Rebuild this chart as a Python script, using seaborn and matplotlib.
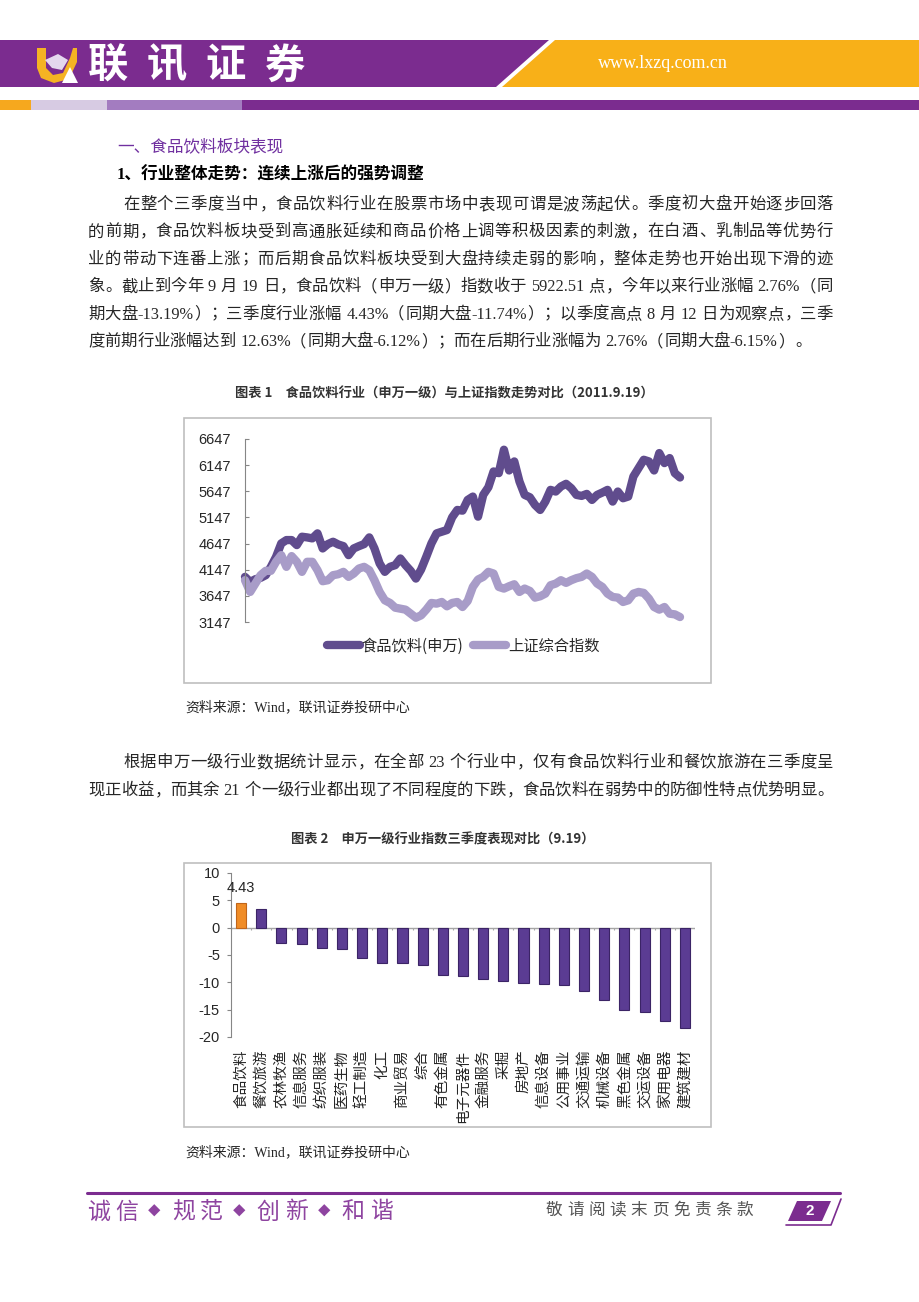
import re

import matplotlib

matplotlib.use("Agg")
import matplotlib.pyplot as plt
import numpy as np
import pandas as pd
import seaborn as sns
from matplotlib.lines import Line2D
from matplotlib.patches import Polygon, Rectangle

W, H = 920, 1302  # page size in pixels

# ---- chart 1: index trend ----
food_bev = [4010, 3914, 3965, 3991, 4042, 4202, 4394, 4650, 4714, 4714,
            4618, 4778, 4765, 4746, 4842, 4554, 4637, 4682, 4630, 4598,
            4426, 4554, 4598, 4637, 4765, 4554, 4266, 4106, 4202, 4234,
            4362, 4234, 4125, 3978, 4150, 4394, 4650, 4842, 4874, 4906,
            5149, 5290, 5277, 5482, 5546, 5162, 5578, 5725, 6026, 5994,
            6442, 6045, 6218, 5834, 5578, 5533, 5386, 5290, 5450, 5674,
            5642, 5738, 5790, 5706, 5578, 5559, 5597, 5482, 5578, 5623,
            5674, 5450, 5642, 5514, 5546, 5930, 6090, 6250, 6218, 6045,
            6378, 6186, 6282, 5994, 5911]
sh_comp = [3946, 3722, 3882, 4042, 4126, 4126, 4298, 4426, 4202, 4407,
           4298, 4106, 4298, 4298, 4138, 3927, 3946, 4042, 4061, 4106,
           4010, 4074, 4170, 4202, 4138, 3946, 3722, 3562, 3511, 3421,
           3402, 3383, 3306, 3229, 3274, 3383, 3511, 3498, 3530, 3447,
           3511, 3530, 3434, 3549, 3818, 3959, 4010, 4106, 4074, 3818,
           3786, 3831, 3869, 3722, 3786, 3741, 3613, 3639, 3690, 3850,
           3882, 3946, 3895, 3946, 3985, 4010, 4074, 4010, 3882, 3818,
           3690, 3626, 3613, 3530, 3562, 3690, 3722, 3703, 3594, 3434,
           3383, 3434, 3306, 3293, 3242]
series_names = ["食品饮料(申万)", "上证综合指数"]
y1_ticks = [3147, 3647, 4147, 4647, 5147, 5647, 6147, 6647]

# ---- chart 2: Q3 change of SW level-1 industries ----
industries = ["食品饮料", "餐饮旅游", "农林牧渔", "信息服务", "纺织服装", "医药生物",
              "轻工制造", "化工", "商业贸易", "综合", "有色金属", "电子元器件",
              "金融服务", "采掘", "房地产", "信息设备", "公用事业", "交通运输",
              "机械设备", "黑色金属", "交运设备", "家用电器", "建筑建材"]
q3_change = [4.43, 3.4, -2.74, -2.9, -3.66, -3.84, -5.5, -6.4, -6.4, -6.77,
             -8.6, -8.8, -9.33, -9.7, -10.06, -10.24, -10.43, -11.5, -13.2,
             -15.0, -15.4, -17.0, -18.3]
y2_ticks = [-20, -15, -10, -5, 0, 5, 10]

heading = "一、食品饮料板块表现"
subheading = "1、行业整体走势：连续上涨后的强势调整"
para1 = [
    "在整个三季度当中，食品饮料行业在股票市场中表现可谓是波荡起伏。季度初大盘开始逐步回落",
    "的前期，食品饮料板块受到高通胀延续和商品价格上调等积极因素的刺激，在白酒、乳制品等优势行",
    "业的带动下连番上涨；而后期食品饮料板块受到大盘持续走弱的影响，整体走势也开始出现下滑的迹",
    "象。截止到今年 9 月 19 日，食品饮料（申万一级）指数收于 5922.51 点，今年以来行业涨幅 2.76%（同",
    "期大盘-13.19%）；三季度行业涨幅 4.43%（同期大盘-11.74%）；以季度高点 8 月 12 日为观察点，三季",
    "度前期行业涨幅达到 12.63%（同期大盘-6.12%）；而在后期行业涨幅为 2.76%（同期大盘-6.15%）。",
]
para2 = [
    "根据申万一级行业数据统计显示，在全部 23 个行业中，仅有食品饮料行业和餐饮旅游在三季度呈",
    "现正收益，而其余 21 个一级行业都出现了不同程度的下跌，食品饮料在弱势中的防御性特点优势明显。",
]
title1 = "图表 1　食品饮料行业（申万一级）与上证指数走势对比（2011.9.19）"
title2 = "图表 2　申万一级行业指数三季度表现对比（9.19）"
source = "资料来源：Wind，联讯证券投研中心"

PURPLE = "#7B2C8F"
ORANGE = "#F8B018"
DARK_LINE = "#604C8D"
LIGHT_LINE = "#A89CC8"
BAR = "#5B3C93"
BAR_HI = "#F08C26"

sns.set_theme(style="white")
plt.rcParams["font.family"] = ["Liberation Sans", "Noto Sans CJK SC"]
plt.rcParams["axes.unicode_minus"] = False
plt.rcParams["lines.solid_capstyle"] = "round"
plt.rcParams["lines.solid_joinstyle"] = "round"
CJK = ["Noto Sans CJK SC", "DejaVu Sans"]
BODY = ["Liberation Serif", "Noto Sans CJK SC"]
BODY_SIZE = 11.8


def frac(x0, y0, x1, y1):
    return [x0 / W, 1 - y1 / H, (x1 - x0) / W, (y1 - y0) / H]


fig = plt.figure(figsize=(W / 100, H / 100), dpi=100)
renderer = fig.canvas.get_renderer()
page = fig.add_axes([0, 0, 1, 1], zorder=0)
page.set_xlim(0, W)
page.set_ylim(H, 0)
page.axis("off")


def put_line(x0, y, line, x1=None, size=BODY_SIZE):
    """Write one body line; spread it to x1 when given (justified text)."""
    em = size * 100 / 72
    parts = re.findall(r"( ?)([!-~]+|\S)", line)
    widths = []
    for _, tok in parts:
        if tok.isascii():
            t = page.text(0, 0, tok, fontsize=size, family=BODY)
            widths.append(t.get_window_extent(renderer).width)
            t.remove()
        else:
            widths.append(em)
    spaces = [0.28 * em if sp else 0.0 for sp, _ in parts]
    natural = sum(widths) + sum(spaces)
    gap = 0.0 if x1 is None else (x1 - x0 - natural) / (len(parts) - 1)
    x = x0
    for (_, tok), w, s in zip(parts, widths, spaces):
        x += s
        if tok.isascii() or tok in "，。；：、）":
            page.text(x + (0 if tok.isascii() else 1), y, tok, fontsize=size, family=BODY,
                      va="center", ha="left")
        elif tok == "（":
            page.text(x + w - 1, y, tok, fontsize=size, family=BODY, va="center", ha="right")
        else:
            page.text(x + w / 2, y, tok, fontsize=size, family=BODY, va="center", ha="center")
        x += w + gap


# ---- header band ----
page.add_patch(Polygon([(0, 40), (549, 40), (496, 87), (0, 87)], fc=PURPLE, ec="none"))
page.add_patch(Polygon([(555, 40), (920, 40), (920, 87), (502, 87)], fc=ORANGE, ec="none"))
page.add_patch(Polygon([(37, 48), (46, 48), (46, 68), (53, 75), (63, 73), (70, 58), (73, 48),
                        (77, 48), (77, 62), (69, 79), (54, 83), (41, 78), (37, 68)],
                       fc="#F5B323", ec="none"))
page.add_patch(Polygon([(45, 60), (58, 54), (68, 60), (62, 70), (52, 68)], fc="#E4D7EE", ec="none"))
page.add_patch(Polygon([(62, 83), (70, 67), (78, 83)], fc="white", ec="none"))
for i, ch in enumerate("联讯证券"):
    page.text(108 + 59 * i, 66, ch, color="white", fontsize=29, fontweight="bold",
              family=CJK, ha="center", va="center")
page.text(598, 64, "www.lxzq.com.cn", color="white", fontsize=13,
          family=["Liberation Serif"], va="center")
for x0, x1, c in [(0, 31, "#F6A81E"), (31, 107, "#D7CBE3"), (107, 242, "#A37CC0"), (242, 920, PURPLE)]:
    page.add_patch(Rectangle((x0, 100), x1 - x0, 10, fc=c, ec="none"))

# ---- body text ----
page.text(117, 147, heading, color="#7030A0", fontsize=12, family=CJK, va="center")
page.text(117, 175, subheading, color="black", fontsize=12, fontweight="bold", family=BODY, va="center")
for i, line in enumerate(para1):
    put_line(123 if i == 0 else 88, 205 + 27.4 * i, line,
             x1=833 if i < len(para1) - 1 else None)
for i, line in enumerate(para2):
    put_line(123 if i == 0 else 88, 763 + 28 * i, line, x1=833)

page.text(444, 394, title1, fontsize=9.5, fontweight="bold", color="#333333", family=CJK,
          ha="center", va="center")
page.text(443, 839, title2, fontsize=9.5, fontweight="bold", color="#333333", family=CJK,
          ha="center", va="center")
page.text(185, 707, source, fontsize=10, family=BODY, va="center")
page.text(185, 1152, source, fontsize=10, family=BODY, va="center")
page.add_patch(Rectangle((184, 418), 527, 265, fill=False, ec="#BFBFBF", lw=1.2))
page.add_patch(Rectangle((184, 863), 527, 264, fill=False, ec="#BFBFBF", lw=1.2))

# ---- footer ----
page.plot([87, 840], [1193, 1193], color=PURPLE, lw=2.2)
for i, ch in enumerate("诚信◆规范◆创新◆和谐"):
    small = ch == "◆"
    page.text(87 + 28.3 * i + (4 if small else 0), 1212, ch, color="#8E44A0",
              fontsize=9 if small else 16.5, family=CJK, va="center")
for i, ch in enumerate("敬请阅读末页免责条款"):
    page.text(546 + 21.2 * i, 1210, ch, color="#555555", fontsize=12, family=CJK, va="center")
page.add_patch(Polygon([(797, 1201), (831, 1201), (822, 1221), (788, 1221)], fc=PURPLE, ec="none"))
page.plot([841, 831, 786], [1199, 1225, 1225], color=PURPLE, lw=1.2)
page.text(810, 1211, "2", color="white", fontsize=11, fontweight="bold", ha="center", va="center")

# ---- chart 1 ----
ax1 = fig.add_axes(frac(245, 439, 680, 622), zorder=2)
ax1.patch.set_alpha(0)
n = len(food_bev)
trend = pd.DataFrame({
    "day": list(range(n)) * 2,
    "value": food_bev + sh_comp,
    "series": [series_names[0]] * n + [series_names[1]] * n,
})
sns.lineplot(data=trend, x="day", y="value", hue="series",
             palette={series_names[0]: DARK_LINE, series_names[1]: LIGHT_LINE},
             linewidth=6, legend=False, ax=ax1)
for ln in ax1.lines:
    ln.set_clip_on(False)
ax1.set_xlim(0, n - 1)
ax1.set_ylim(y1_ticks[0], y1_ticks[-1])
ax1.set_yticks(y1_ticks)
ax1.set_xticks([])
ax1.set_xlabel("")
ax1.set_ylabel("")
for side in ["top", "right", "bottom"]:
    ax1.spines[side].set_visible(False)
ax1.spines["left"].set_color("#868686")
ax1.spines["left"].set_linewidth(0.8)
ax1.tick_params(axis="y", direction="in", length=3, width=0.8, color="#868686",
                pad=10, labelsize=10.5, left=True)
handles = [Line2D([], [], color=c, lw=6) for c in [DARK_LINE, LIGHT_LINE]]
ax1.legend(handles, series_names, loc="center", bbox_to_anchor=(463 / W, 1 - 646 / H),
           bbox_transform=fig.transFigure, ncol=2, frameon=False, handlelength=2.2,
           handletextpad=0.1, columnspacing=0.6, prop={"family": CJK, "size": 11})

# ---- chart 2 ----
ax2 = fig.add_axes(frac(231, 873, 695, 1037), zorder=2)
ax2.patch.set_alpha(0)
perf = pd.DataFrame({"industry": industries, "change": q3_change})
colors = {name: (BAR_HI if i == 0 else BAR) for i, name in enumerate(industries)}
sns.barplot(data=perf, x="industry", y="change", hue="industry", palette=colors,
            legend=False, width=0.5, saturation=1, ax=ax2)
for i, p in enumerate(ax2.patches):
    p.set_edgecolor("#C0651A" if i == 0 else "#3B2466")
    p.set_linewidth(0.8)
ax2.set_xlim(-0.5, len(industries) - 0.5)
ax2.set_ylim(y2_ticks[0], y2_ticks[-1])
ax2.set_yticks(y2_ticks)
ax2.axhline(0, color="#A6A6A6", lw=1, zorder=0)
ax2.vlines(np.arange(len(industries) + 1) - 0.5, -0.45, 0, color="#A6A6A6", lw=0.8)
ax2.set_xlabel("")
ax2.set_ylabel("")
for side in ["top", "right", "bottom"]:
    ax2.spines[side].set_visible(False)
ax2.spines["left"].set_color("#868686")
ax2.spines["left"].set_linewidth(0.8)
ax2.tick_params(axis="y", direction="out", length=3, width=0.8, color="#868686",
                pad=5, labelsize=10.5, left=True)
ax2.tick_params(axis="x", length=0, pad=9)
ax2.set_xticks(range(len(industries)))
ax2.set_xticklabels(industries, rotation=90, fontsize=10.5, family=CJK)
ax2.annotate(f"{q3_change[0]:.2f}", xy=(0, q3_change[0]), xytext=(0, 6),
             textcoords="offset points", ha="center", va="bottom", fontsize=10.5)

fig.savefig("out.png", dpi=100)
